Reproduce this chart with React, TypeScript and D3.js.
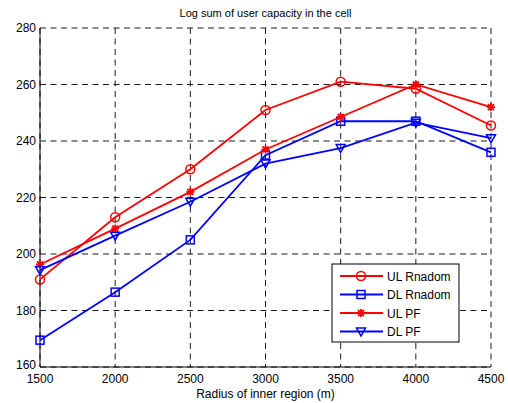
import React from 'react';
import * as d3 from 'd3';

const radius = [1500, 2000, 2500, 3000, 3500, 4000, 4500];
const ulRandom = [191, 213, 230, 251, 261, 258.5, 245.5];
const dlRandom = [169.5, 186.5, 205, 235, 247, 247, 236];
const ulPF = [196.3, 209, 222, 237, 248.5, 260, 252];
const dlPF = [194.3, 206.5, 218.5, 232, 237.5, 246.5, 241];
const xTicks = [1500, 2000, 2500, 3000, 3500, 4000, 4500];
const yTicks = [160, 180, 200, 220, 240, 260, 280];

const series = [
  { name: 'UL Rnadom', values: ulRandom, color: '#ff0000', marker: 'circle' },
  { name: 'DL Rnadom', values: dlRandom, color: '#0000ff', marker: 'square' },
  { name: 'UL PF', values: ulPF, color: '#ff0000', marker: 'star' },
  { name: 'DL PF', values: dlPF, color: '#0000ff', marker: 'triangle' },
];

const W = 508;
const H = 403;
const m = { left: 40, right: 491, top: 28, bottom: 367 };
const font = '"Liberation Sans", Arial, sans-serif';

const Marker = ({ type, x, y, color }: { type: string; x: number; y: number; color: string }) => {
  if (type === 'circle') return <circle cx={x} cy={y} r={4.5} fill="none" stroke={color} strokeWidth={1.5} />;
  if (type === 'square') return <rect x={x - 4} y={y - 4} width={8} height={8} fill="none" stroke={color} strokeWidth={1.5} />;
  if (type === 'triangle')
    return <path d={`M${x - 4.5},${y - 3.5}L${x + 4.5},${y - 3.5}L${x},${y + 4.5}Z`} fill="none" stroke={color} strokeWidth={1.5} />;
  // star: plus + x
  const s = 4;
  return (
    <path
      d={`M${x - s},${y}L${x + s},${y}M${x},${y - s}L${x},${y + s}M${x - 3},${y - 3}L${x + 3},${y + 3}M${x - 3},${y + 3}L${x + 3},${y - 3}`}
      stroke={color}
      strokeWidth={1.8}
    />
  );
};

export default function App() {
  const x = d3.scaleLinear().domain([1500, 4500]).range([m.left, m.right]);
  const y = d3.scaleLinear().domain([160, 280]).range([m.bottom, m.top]);
  const line = d3
    .line<number>()
    .x((_, i) => x(radius[i]))
    .y((d) => y(d));

  const lg = { x: 332, y: 264, w: 127, h: 78 };

  return (
    <svg width={W} height={H} style={{ position: 'absolute', left: 0, top: 0, background: '#fff' }} fontFamily={font}>
      <rect width={W} height={H} fill="#fff" />
      {/* grid */}
      {xTicks.map((t) => (
        <line key={'gx' + t} x1={x(t)} x2={x(t)} y1={m.top} y2={m.bottom} stroke="#000" strokeWidth={0.9} strokeDasharray="6,4.5" />
      ))}
      {yTicks.map((t) => (
        <line key={'gy' + t} x1={m.left} x2={m.right} y1={y(t)} y2={y(t)} stroke="#000" strokeWidth={0.9} strokeDasharray="6,4.5" />
      ))}
      {/* axes */}
      <line x1={m.left} x2={m.left} y1={m.top} y2={m.bottom} stroke="#000" strokeWidth={1} />
      <line x1={m.left} x2={m.right} y1={m.bottom} y2={m.bottom} stroke="#000" strokeWidth={1} />
      {xTicks.map((t) => (
        <text key={'tx' + t} x={x(t)} y={m.bottom + 16} fontSize={12} textAnchor="middle">
          {t}
        </text>
      ))}
      {yTicks.map((t) => (
        <text key={'ty' + t} x={m.left - 4} y={y(t) + (t === 160 ? 2 : 4)} fontSize={12} textAnchor="end">
          {t}
        </text>
      ))}
      <text x={(m.left + m.right) / 2} y={398} fontSize={12} textAnchor="middle">
        Radius of inner region (m)
      </text>
      <text x={(m.left + m.right) / 2} y={17} fontSize={11} textAnchor="middle">
        Log sum of user capacity in the cell
      </text>
      {/* series */}
      {series.map((s) => (
        <g key={s.name}>
          <path d={line(s.values) || ''} fill="none" stroke={s.color} strokeWidth={1.8} />
          {s.values.map((v, i) => (
            <Marker key={i} type={s.marker} x={x(radius[i])} y={y(v)} color={s.color} />
          ))}
        </g>
      ))}
      {/* legend */}
      <rect x={lg.x} y={lg.y} width={lg.w} height={lg.h} fill="#fff" stroke="#000" strokeWidth={1} />
      {series.map((s, i) => {
        const ly = lg.y + 12 + i * 18.5;
        return (
          <g key={'lg' + s.name}>
            <line x1={340} x2={383} y1={ly} y2={ly} stroke={s.color} strokeWidth={1.8} />
            <Marker type={s.marker} x={361} y={ly} color={s.color} />
            <text x={387} y={ly + 4.5} fontSize={12}>
              {s.name}
            </text>
          </g>
        );
      })}
    </svg>
  );
}
